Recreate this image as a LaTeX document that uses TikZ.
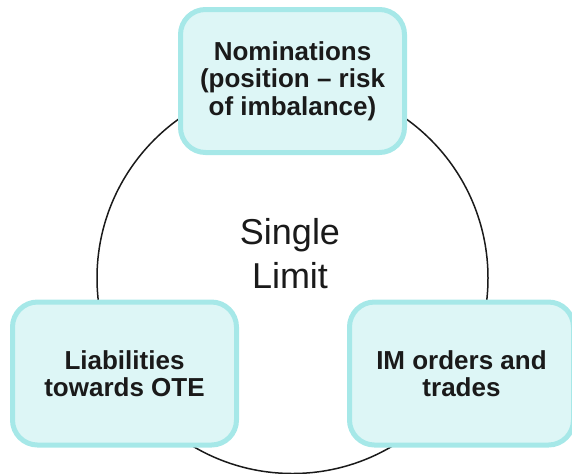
\documentclass[tikz,border=0pt]{standalone}
\usepackage{fontspec}
\setmainfont{Liberation Sans}
\usepackage{xcolor}
\usetikzlibrary{positioning}
\definecolor{boxfill}{RGB}{221,246,246}
\definecolor{boxline}{RGB}{166,232,232}
\definecolor{ink}{RGB}{26,26,26}

\begin{document}
\begin{tikzpicture}[x = .5pt, y = -.5pt,
    box/.style = {draw = boxline, fill = boxfill, line width = 2.5pt, rounded corners = 12.5pt,
      minimum width = 112pt, minimum height = 71.5pt, align = center, text = ink,
      font = \fontsize{13}{13.8}\selectfont\bfseries}]
    \useasboundingbox (0,0) rectangle (572,473);
    \coordinate (c) at (292.5,278);
    \draw[line width = .75pt, ink] (c) circle (97.75pt);
    \node[box] (nom) at (292.5,81) {Nominations\\(position -- risk\\of imbalance)};
    \node[box] (ote) at (124.5,373.5) {Liabilities\\towards OTE};
    \node[box] (im) at (461.5,373.5) {IM orders and\\trades};
        % Centre
    \node[align = center, text = ink, font = \fontsize{18}{22}\selectfont] (lim) at (290,254) {Single\\Limit};
  \end{tikzpicture}
\end{document}
